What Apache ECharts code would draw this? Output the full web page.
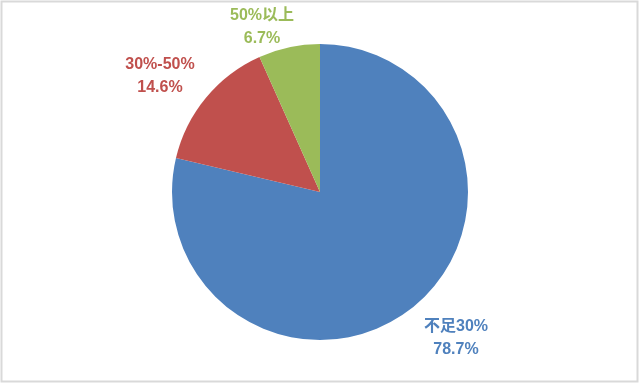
<!DOCTYPE html>
<html><head><meta charset="utf-8">
<script src="https://cdn.jsdelivr.net/npm/echarts@6/dist/echarts.min.js"></script>
<style>html,body{margin:0;padding:0;background:#fff}#c{width:640px;height:384px}</style>
</head><body><div id="c"></div>
<script>
const categories = ['不足30%', '30%-50%', '50%以上'];
const values = [78.7, 14.6, 6.7];
const colors = ['#4F81BD', '#C0504D', '#9BBB59'];
const labelPos = [[456, 338], [160, 76], [262, 27]];

const chart = echarts.init(document.getElementById('c'));
chart.setOption({
  backgroundColor: '#fff',
  animation: false,
  graphic: [{
    type: 'rect', shape: {x: 1.5, y: 1.5, width: 636, height: 380},
    style: {fill: 'none', stroke: '#D9D9D9', lineWidth: 2}
  }],
  series: [{
    type: 'pie',
    center: [320, 192],
    radius: [0, 148],
    startAngle: 90,
    clockwise: true,
    data: categories.map((n, i) => ({
      name: n, value: values[i],
      itemStyle: {color: colors[i]},
      label: {color: colors[i]}
    })),
    itemStyle: {borderWidth: 0},
    label: {
      show: true, position: 'outside',
      formatter: p => p.name + '\n' + p.value + '%',
      fontFamily: 'Liberation Sans, Noto Sans CJK SC, sans-serif',
      fontSize: 16, fontWeight: 'bold', lineHeight: 23, align: 'center'
    },
    labelLine: {show: false},
    labelLayout: p => ({x: labelPos[p.dataIndex][0], y: labelPos[p.dataIndex][1], align: 'center', verticalAlign: 'middle'})
  }]
});
</script></body></html>
